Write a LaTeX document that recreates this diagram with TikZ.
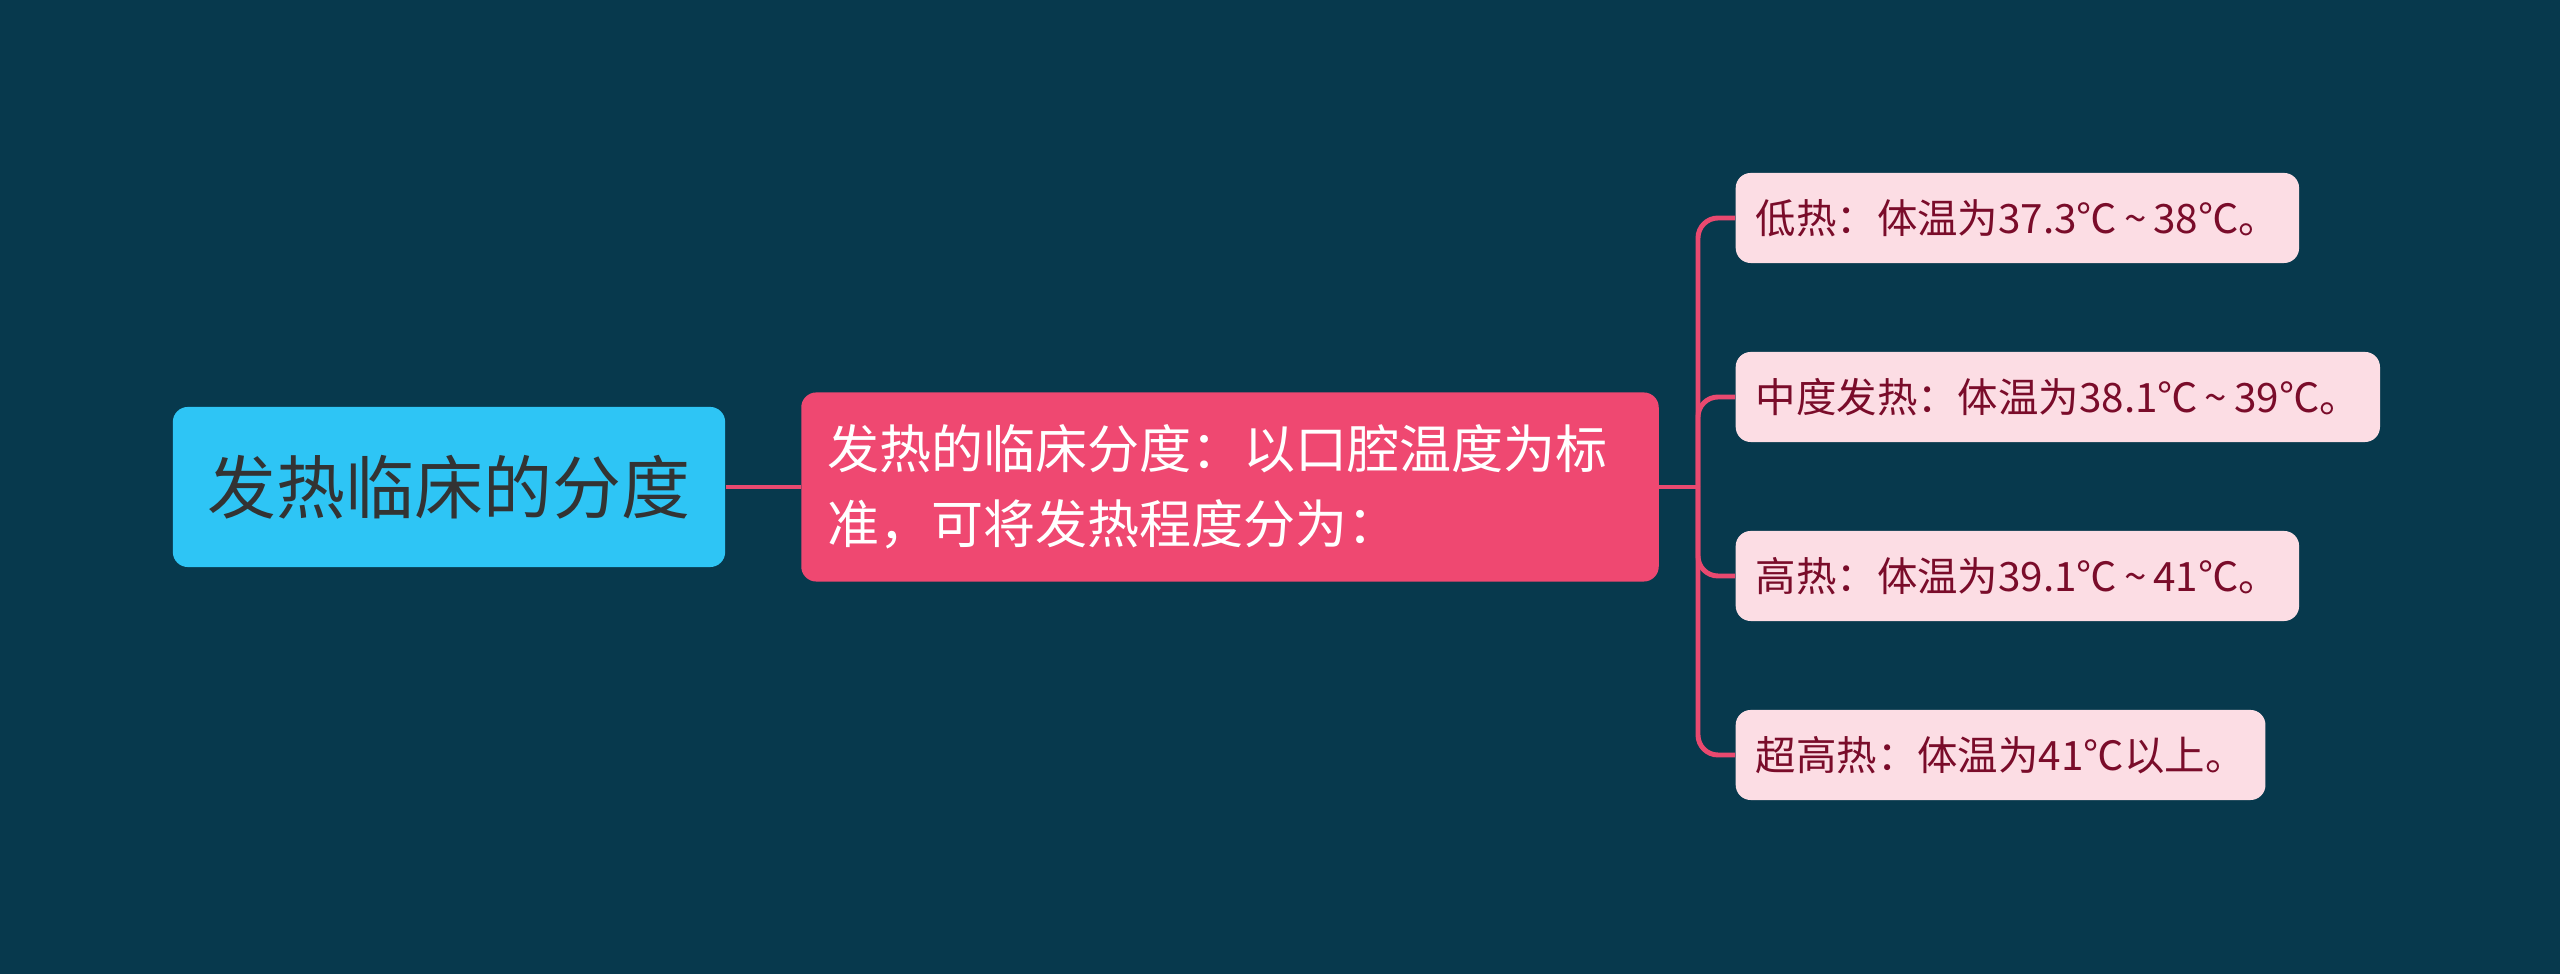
\documentclass[tikz,border=0pt]{standalone}
\usepackage{fontspec}
\setmainfont{Noto Sans CJK SC}
\usetikzlibrary{positioning}
\definecolor{bgcol}{RGB}{7,57,77}
\definecolor{rootcol}{RGB}{46,197,245}
\definecolor{maincol}{RGB}{239,72,113}
\definecolor{leafcol}{RGB}{252,221,228}
\definecolor{leaftext}{RGB}{122,12,42}
\definecolor{linkcol}{RGB}{233,73,111}
\newcommand{\wave}{\,\textasciitilde\,}
\begin{document}
\begin{tikzpicture}[x=0.01cm,y=-0.01cm,
  link/.style={draw=linkcol,line width=1.4pt,rounded corners=0.2cm},
  leaf/.style={fill=leafcol,text=leaftext,rounded corners=0.15cm,anchor=west,
    minimum height=0.9cm,inner xsep=0.2cm,font=\fontsize{11.5pt}{14pt}\selectfont}]
   % Nền
   \fill[bgcol] (0,0) rectangle (2560,974);
   % Các nút chính
   \node[fill=rootcol,text=black!80,rounded corners=0.15cm,minimum width=5.52cm,minimum height=1.6cm,
     font=\fontsize{19.6pt}{24pt}\selectfont] (root) at (449,487) {发热临床的分度};
   \node[fill=maincol,text=white,rounded corners=0.15cm,minimum width=8.57cm,minimum height=1.89cm,
     text width=8.05cm,align=left,inner xsep=0.26cm,font=\fontsize{14.8pt}{21.3pt}\selectfont]
     (main) at (1230,487) {发热的临床分度：以口腔温度为标\\准，可将发热程度分为：};
   % Các nút lá
   \node[leaf] (low) at (1735,218) {低热：体温为37.3℃\wave38℃。};
   \node[leaf] (mid) at (1735,397) {中度发热：体温为38.1℃\wave39℃。};
   \node[leaf] (high) at (1735,576) {高热：体温为39.1℃\wave41℃。};
   \node[leaf] (top) at (1735,755) {超高热：体温为41℃以上。};
   % Đường nối
   \coordinate (fork) at (1698,487);
   \draw[link] (root.east)--(main.west);
   \draw[link] (main.east)--(fork);
   \foreach \n in {low,mid,high,top}
   \draw[link] (fork) |- (\n.west);
\end{tikzpicture}
\end{document}
